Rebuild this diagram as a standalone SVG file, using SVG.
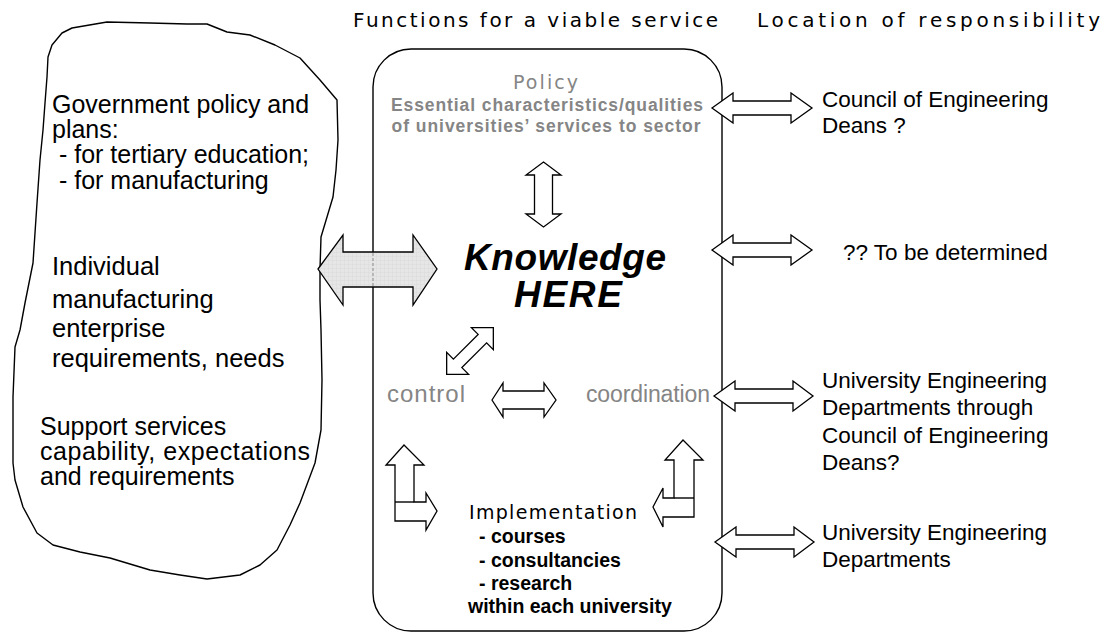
<svg xmlns="http://www.w3.org/2000/svg" width="1106" height="633" viewBox="0 0 1106 633">
<style>
.ln{fill:none;stroke:#000;stroke-width:1.4;stroke-linejoin:round}
.ar{fill:#fff;stroke:#000;stroke-width:1.3;stroke-linejoin:miter}
.vt{font-family:"DejaVu Sans",Verdana,sans-serif;fill:#000}
.at{font-family:"Liberation Sans",Arial,sans-serif;fill:#000}
.gr{fill:#858585}
.bd{font-weight:bold}
</style>
<defs>
<pattern id="grid" width="4" height="4" patternUnits="userSpaceOnUse">
<rect width="4" height="4" fill="#e6e6e6"/>
<path d="M0 0H4M0 0V4" stroke="#d4d4d4" stroke-width="0.6"/>
</pattern>
</defs>
<rect width="1106" height="633" fill="#fff"/>

<g id="headers">
<text class="vt" x="353" y="27" font-size="20" textLength="365" lengthAdjust="spacing">Functions for a viable service</text>
<text class="vt" x="757" y="27" font-size="20" textLength="343" lengthAdjust="spacing">Location of responsibility</text>
</g>

<g id="environment">
<path class="ln" d="M52,45 L62,33 L72,28 L107,22 L150,23 L187,24 L207,24 L227,32 L250,35 L275,45 L300,58 L320,80 L337,100 L338,140 L336,170 L333,197 L327,217 L321,237 L320,269 L320,300 L321,330 L322,380 L321,430 L315,463 L300,503 L290,525 L277,550 L260,565 L240,575 L207,579 L180,575 L150,570 L110,558 L80,552 L53,545 L37,533 L23,507 L15,480 L13,463 L13,397 L15,347 L20,330 L25,303 L33,263 L37,203 L40,160 L43,130 L45,103 L47,77 L48,57 Z"/>
<text class="at" font-size="25">
<tspan x="52" y="113">Government policy and</tspan>
<tspan x="52" y="138">plans:</tspan>
<tspan x="52" y="163" xml:space="preserve"> - for tertiary education;</tspan>
<tspan x="52" y="189" xml:space="preserve"> - for manufacturing</tspan>
</text>
<text class="at" font-size="25.5">
<tspan x="52" y="275">Individual</tspan>
<tspan x="52" y="308">manufacturing</tspan>
<tspan x="52" y="337">enterprise</tspan>
<tspan x="52" y="367">requirements, needs</tspan>
</text>
<text class="at" font-size="25">
<tspan x="40" y="435">Support services</tspan>
<tspan x="40" y="460" textLength="270" lengthAdjust="spacing">capability, expectations</tspan>
<tspan x="40" y="485">and requirements</tspan>
</text>
</g>

<g id="service">
<rect class="ln" x="373" y="49" width="349" height="582" rx="38" ry="38"/>
</g>

<g id="policy">
<text class="vt gr" x="545.5" y="89" font-size="19" text-anchor="middle" textLength="65" lengthAdjust="spacing">Policy</text>
<text class="at gr bd" x="547" y="111" font-size="17.5" text-anchor="middle" textLength="312" lengthAdjust="spacing">Essential characteristics/qualities</text>
<text class="at gr bd" x="546" y="132" font-size="17.5" text-anchor="middle" textLength="309" lengthAdjust="spacing">of universities’ services to sector</text>
</g>

<g id="knowledge">
<text class="at bd" x="565" y="270" font-size="37" font-style="italic" text-anchor="middle" textLength="202" lengthAdjust="spacing">Knowledge</text>
<text class="at bd" x="568" y="307" font-size="37" font-style="italic" text-anchor="middle" textLength="108" lengthAdjust="spacing">HERE</text>
</g>

<g id="control">
<text class="at gr" x="387" y="402" font-size="24" textLength="78" lengthAdjust="spacing">control</text>
</g>

<g id="coordination">
<text class="at gr" x="586" y="402" font-size="23" textLength="124" lengthAdjust="spacing">coordination</text>
</g>

<g id="implementation">
<text class="vt" x="469" y="519" font-size="19" textLength="168" lengthAdjust="spacing">Implementation</text>
<text class="at bd" font-size="19.5">
<tspan x="479" y="543">- courses</tspan>
<tspan x="479" y="567">- consultancies</tspan>
<tspan x="479" y="590">- research</tspan>
<tspan x="468" y="613">within each university</tspan>
</text>
</g>

<g id="resp-deans">
<text class="at" font-size="22.5"><tspan x="822" y="107">Council of Engineering</tspan><tspan x="822" y="133">Deans ?</tspan></text>
</g>
<g id="resp-tbd">
<text class="at" x="843" y="260" font-size="22.5">?? To be determined</text>
</g>
<g id="resp-coord">
<text class="at" font-size="22.5"><tspan x="822" y="388">University Engineering</tspan><tspan x="822" y="415">Departments through</tspan><tspan x="822" y="443">Council of Engineering</tspan><tspan x="822" y="470">Deans?</tspan></text>
</g>
<g id="resp-impl">
<text class="at" font-size="22.5"><tspan x="822" y="540">University Engineering</tspan><tspan x="822" y="567">Departments</tspan></text>
</g>

<g id="connectors">
<polygon fill="url(#grid)" stroke="#000" stroke-width="1.3" points="318,269 343,235 343,252 413,252 413,235 437,269 413,305 413,287 343,287 343,305"/>
<line x1="373" y1="253" x2="373" y2="286" stroke="#999" stroke-width="1.2" stroke-dasharray="3,2"/>
<polygon class="ar" points="543.5,162 561,175 552.5,175 552.5,214 561,214 543.5,227 526,214 534.5,214 534.5,175 526,175"/>
<polygon class="ar" transform="translate(470,351) rotate(-45)" points="-33,0 -17.5,-15.5 -17.5,-6 17.5,-6 17.5,-15.5 33,0 17.5,15.5 17.5,6 -17.5,6 -17.5,15.5"/>
<polygon class="ar" points="492,400 503,383 503,391 544,391 544,383 556,400 544,417 544,409 503,409 503,417"/>
<polygon class="ar" points="404,445 424,465 414,465 414,502 426,502 426,493 437,511 426,530 426,521 395,521 395,465 386,465"/>
<line class="ln" x1="395" y1="502" x2="414" y2="502" stroke-width="1.3"/>
<polygon class="ar" points="683,440 703,460 694,460 694,517 663,517 663,527 653,507 663,488 663,498 674,498 674,460 665,460"/>
<line class="ln" x1="674" y1="498" x2="694" y2="498" stroke-width="1.3"/>
<polygon class="ar" points="712,108 733,93 733,101 791,101 791,93 812,108 791,123 791,115 733,115 733,123"/>
<polygon class="ar" points="712,250 733,235 733,243 791,243 791,235 812,250 791,265 791,257 733,257 733,265"/>
<polygon class="ar" points="714,396 735,381 735,389 793,389 793,381 813,396 793,411 793,403 735,403 735,411"/>
<polygon class="ar" points="715,542 736,527 736,535 794,535 794,527 814,542 794,557 794,549 736,549 736,557"/>
</g>
</svg>
